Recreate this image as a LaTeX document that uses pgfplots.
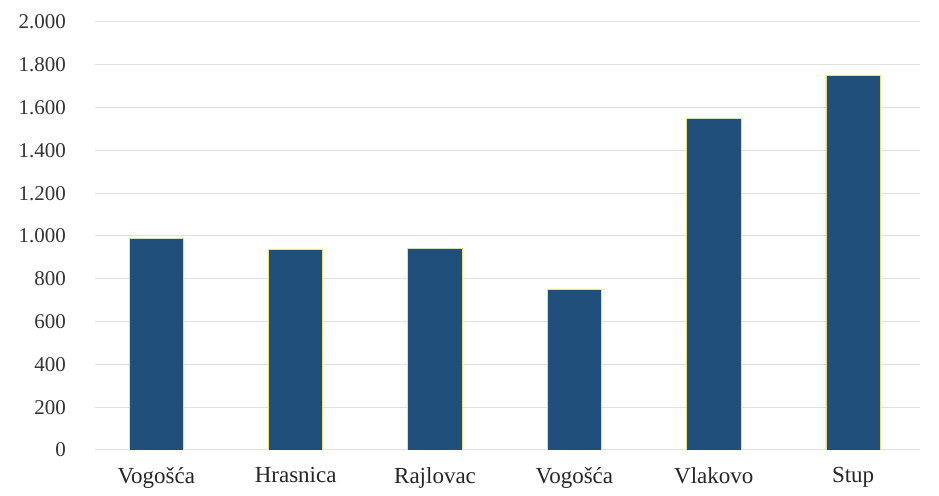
\documentclass[border=0pt]{standalone}
\usepackage{pgfplots}
\pgfplotsset{compat=1.18}
\usepackage{fontspec}
\setmainfont{Liberation Serif}
\definecolor{barblue}{RGB}{31,79,122}
\definecolor{baredge}{RGB}{235,225,120}
\begin{document}
\begin{tikzpicture}
\useasboundingbox (0,0) rectangle (469.5pt,248pt);
\begin{axis}[
  at={(47.5pt,23pt)}, anchor=south west,
  scale only axis,
  width=412.5pt, height=214pt,
  xmin=-0.44, xmax=5.48,
  ymin=0, ymax=2000,
  ytick={0,200,...,2000},
  xtick={0,1,2,3,4,5},
  xticklabels={Vogošća,Hrasnica,Rajlovac,Vogošća,Vlakovo,Stup},
  axis line style={draw=none},
  major tick length=0pt,
  ymajorgrids,
  grid style={draw=black!12, line width=0.5pt},
  /pgf/number format/.cd, 1000 sep={.}, assume math mode=true,
  /pgfplots/.cd,
  yticklabel style={font=\fontsize{10.5}{12}\selectfont, text=black!80, xshift=-11pt},
  xticklabel style={font=\fontsize{11.5}{13}\selectfont, text=black!85, yshift=-5pt},
]
\addplot[ybar, bar width=0.39, fill=barblue, draw=baredge, line width=0.4pt]
  coordinates {(0,990) (1,935) (2,940) (3,752) (4,1550) (5,1752)};
\end{axis}
\end{tikzpicture}
\end{document}
